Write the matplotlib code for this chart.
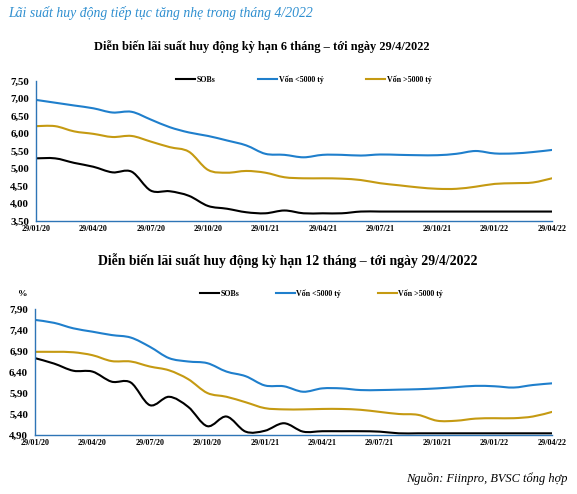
import matplotlib
matplotlib.use("Agg")
import matplotlib.pyplot as plt
from matplotlib.path import Path
from matplotlib.patches import PathPatch
from matplotlib.lines import Line2D
import numpy as np

# ---------------- data ----------------
months = list(range(28))  # monthly points 29/01/20 .. 29/04/22
x_tick_pos = [0, 3, 6, 9, 12, 15, 18, 21, 24, 27]
x_tick_labels = ["29/01/20", "29/04/20", "29/07/20", "29/10/20", "29/01/21",
                 "29/04/21", "29/07/21", "29/10/21", "29/01/22", "29/04/22"]

series_names = ["SOBs", "Vốn <5000 tỷ", "Vốn >5000 tỷ"]

# 6-month term
sob_6m = [5.29, 5.29, 5.16, 5.05, 4.89, 4.91, 4.37, 4.35, 4.22, 3.93, 3.85, 3.75, 3.72, 3.80,
          3.72, 3.72, 3.72, 3.77, 3.77, 3.77, 3.77, 3.77, 3.77, 3.77, 3.77, 3.77, 3.77, 3.77]
small_6m = [6.96, 6.88, 6.80, 6.72, 6.60, 6.62, 6.40, 6.18, 6.03, 5.93, 5.80, 5.66, 5.42, 5.39,
            5.32, 5.39, 5.39, 5.37, 5.40, 5.39, 5.38, 5.38, 5.42, 5.50, 5.43, 5.43, 5.47, 5.53]
large_6m = [6.21, 6.21, 6.06, 5.99, 5.90, 5.93, 5.77, 5.61, 5.48, 4.96, 4.88, 4.93, 4.88, 4.75,
            4.72, 4.72, 4.71, 4.67, 4.58, 4.52, 4.46, 4.42, 4.42, 4.48, 4.56, 4.58, 4.60, 4.72]
y6_ticks = [3.5, 4.0, 4.5, 5.0, 5.5, 6.0, 6.5, 7.0, 7.5]
y6_labels = ["3,50", "4,00", "4,50", "5,00", "5,50", "6,00", "6,50", "7,00", "7,50"]

# 12-month term
sob_12m = [6.73, 6.60, 6.43, 6.41, 6.17, 6.15, 5.61, 5.81, 5.57, 5.11, 5.34, 4.98, 5.00, 5.18,
           4.98, 4.99, 4.99, 4.99, 4.98, 4.94, 4.94, 4.94, 4.94, 4.94, 4.94, 4.94, 4.94, 4.94]
small_12m = [7.64, 7.57, 7.44, 7.36, 7.28, 7.22, 7.00, 6.73, 6.65, 6.61, 6.41, 6.30, 6.08, 6.06,
             5.93, 6.01, 6.01, 5.97, 5.97, 5.98, 5.99, 6.01, 6.04, 6.07, 6.06, 6.03, 6.09, 6.13]
large_12m = [6.88, 6.88, 6.87, 6.80, 6.66, 6.65, 6.53, 6.44, 6.23, 5.90, 5.81, 5.68, 5.54, 5.51,
             5.51, 5.52, 5.52, 5.50, 5.45, 5.40, 5.38, 5.24, 5.24, 5.29, 5.30, 5.30, 5.34, 5.45]
y12_ticks = [4.9, 5.4, 5.9, 6.4, 6.9, 7.4, 7.9]
y12_labels = ["4,90", "5,40", "5,90", "6,40", "6,90", "7,40", "7,90"]

# ---------------- style ----------------
C_BLACK = "#000000"
C_BLUE = "#1F7FCC"
C_GOLD = "#C59A12"
C_AXIS = "#2E75B6"
C_TITLE = "#2F8FD0"
SERIF = ["Liberation Serif", "DejaVu Serif"]
plt.rcParams["font.family"] = SERIF
LW = 1.5


def smooth_line(ax, xs, ys, color, lw=LW):
    """Excel-like smoothed line (Catmull-Rom as cubic Bezier) in data coords."""
    x = np.asarray(xs, float)
    y = np.asarray(ys, float)
    n = len(x)
    verts = [(x[0], y[0])]
    codes = [Path.MOVETO]
    for i in range(n - 1):
        i0 = max(i - 1, 0)
        i3 = min(i + 2, n - 1)
        c1 = (x[i] + (x[i + 1] - x[i0]) / 6, y[i] + (y[i + 1] - y[i0]) / 6)
        c2 = (x[i + 1] - (x[i3] - x[i]) / 6, y[i + 1] - (y[i3] - y[i]) / 6)
        verts += [c1, c2, (x[i + 1], y[i + 1])]
        codes += [Path.CURVE4] * 3
    ax.add_patch(PathPatch(Path(verts, codes), fill=False, edgecolor=color,
                           lw=lw, capstyle="round", joinstyle="round"))


fig = plt.figure(figsize=(5.77, 4.94), dpi=100)
W, H = 577, 494


def make_axes(left, right, top, bottom):
    return fig.add_axes([left / W, 1 - bottom / H, (right - left) / W, (bottom - top) / H])


def style_axes(ax, yt, yl, ylim):
    ax.set_xlim(0, 27)
    ax.set_ylim(*ylim)
    for s in ["top", "right"]:
        ax.spines[s].set_visible(False)
    for s in ["left", "bottom"]:
        ax.spines[s].set_color(C_AXIS)
        ax.spines[s].set_linewidth(1.0)
    ax.set_xticks(x_tick_pos)
    ax.set_xticklabels(x_tick_labels, fontsize=5.9, fontweight="bold")
    ax.set_yticks(yt)
    ax.set_yticklabels(yl, fontsize=7.8, fontweight="bold")
    ax.tick_params(axis="both", length=0)
    ax.tick_params(axis="x", pad=3)
    ax.tick_params(axis="y", pad=5)


def add_legend(ax, x_px, y_px, colsp):
    handles = [Line2D([], [], color=c, lw=LW) for c in (C_BLACK, C_BLUE, C_GOLD)]
    ax.legend(handles, series_names, loc="center left",
              bbox_to_anchor=(x_px / W, 1 - y_px / H), bbox_transform=fig.transFigure,
              ncol=3, frameon=False, prop={"family": SERIF, "weight": "bold", "size": 5.7},
              handlelength=2.4, handletextpad=0.2, columnspacing=colsp,
              borderpad=0, borderaxespad=0)


# Titles
fig.text(8 / W, 1 - 13 / H, "Lãi suất huy động tiếp tục tăng nhẹ trong tháng 4/2022",
         fontsize=9.9, style="italic", color=C_TITLE, va="center", ha="left")
fig.text(262 / W, 1 - 47 / H, "Diễn biến lãi suất huy động kỳ hạn 6 tháng – tới ngày 29/4/2022",
         fontsize=8.95, fontweight="bold", va="center", ha="center")
fig.text(288 / W, 1 - 261 / H, "Diễn biến lãi suất huy động kỳ hạn 12 tháng – tới ngày 29/4/2022",
         fontsize=9.9, fontweight="bold", va="center", ha="center")

# Top chart (6 months)
ax1 = make_axes(36, 552, 81, 221)
style_axes(ax1, y6_ticks, y6_labels, (3.5, 7.5))
smooth_line(ax1, months, sob_6m, C_BLACK)
smooth_line(ax1, months, small_6m, C_BLUE)
smooth_line(ax1, months, large_6m, C_GOLD)
add_legend(ax1, 176, 80, 5.4)

# Bottom chart (12 months)
ax2 = make_axes(35, 552, 309, 435)
style_axes(ax2, y12_ticks, y12_labels, (4.9, 7.9))
smooth_line(ax2, months, sob_12m, C_BLACK)
smooth_line(ax2, months, small_12m, C_BLUE)
smooth_line(ax2, months, large_12m, C_GOLD)
add_legend(ax2, 200, 294, 4.6)
fig.text(18 / W, 1 - 294 / H, "%", fontsize=6.8, fontweight="bold", va="center", ha="left")

# Source
fig.text(568 / W, 1 - 479 / H, "Nguồn: Fiinpro, BVSC tổng hợp",
         fontsize=8.9, style="italic", va="center", ha="right")

fig.savefig("out.png", dpi=100)
